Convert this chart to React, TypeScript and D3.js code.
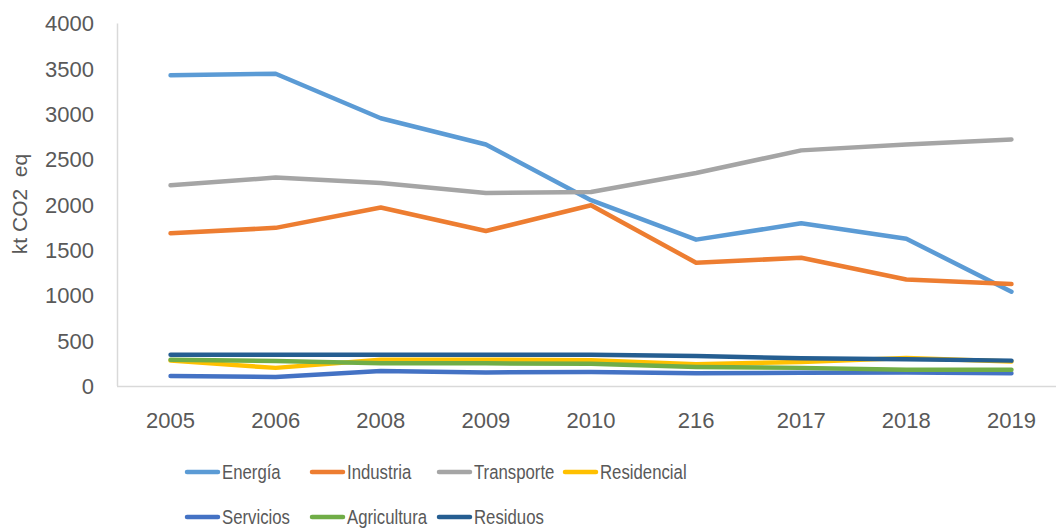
import React from 'react';
import * as d3 from 'd3';

const categories = ['2005', '2006', '2008', '2009', '2010', '216', '2017', '2018', '2019'];
const energia = [3430, 3445, 2955, 2665, 2050, 1615, 1795, 1625, 1040];
const industria = [1685, 1745, 1970, 1710, 1995, 1360, 1415, 1175, 1125];
const transporte = [2215, 2300, 2240, 2130, 2140, 2350, 2600, 2665, 2720];
const residencial = [280, 200, 290, 290, 285, 240, 265, 310, 270];
const servicios = [110, 100, 165, 150, 155, 140, 145, 150, 140];
const agricultura = [290, 275, 250, 250, 245, 210, 200, 180, 180];
const residuos = [345, 345, 345, 345, 345, 330, 305, 295, 280];
const yTicks = [0, 500, 1000, 1500, 2000, 2500, 3000, 3500, 4000];
const seriesNames = ['Energía', 'Industria', 'Transporte', 'Residencial', 'Servicios', 'Agricultura', 'Residuos'];
const seriesValues = [energia, industria, transporte, residencial, servicios, agricultura, residuos];
const seriesColors = ['#5B9BD5', '#ED7D31', '#A5A5A5', '#FFC000', '#4472C4', '#70AD47', '#255E91'];

const W = 1056;
const H = 529;
const FONT = '"Liberation Sans", Arial, sans-serif';
const TEXT = '#595959';

export default function App() {
  const x = d3.scaleBand<string>().domain(categories).range([118, 1064]);
  const y = d3.scaleLinear().domain([0, 4000]).range([386, 23.5]);
  const cx = (c: string) => (x(c) as number) + x.bandwidth() / 2;
  const line = d3
    .line<number>()
    .x((_, i) => cx(categories[i]))
    .y((v) => y(v));

  const legendCols = [185, 310, 437, 563];
  const legendRows = [472, 517];

  return (
    <svg
      width={W}
      height={H}
      style={{ position: 'absolute', left: 0, top: 0, background: '#fff' }}
      fontFamily={FONT}
    >
      <rect width={W} height={H} fill="#fff" />
      <line x1={117.5} x2={117.5} y1={y(4000)} y2={y(0)} stroke="#D9D9D9" strokeWidth={1.5} />
      <line x1={117} x2={1064} y1={y(0) + 0.5} y2={y(0) + 0.5} stroke="#D9D9D9" strokeWidth={1.5} />
      {yTicks.map((t) => (
        <text key={t} x={94} y={y(t)} dy="0.36em" textAnchor="end" fontSize={22} fill={TEXT}>
          {t}
        </text>
      ))}
      {categories.map((c) => (
        <text key={c} x={cx(c)} y={428} textAnchor="middle" fontSize={22} fill={TEXT}>
          {c}
        </text>
      ))}
      <text
        transform={`translate(27,204) rotate(-90)`}
        textAnchor="middle"
        fontSize={21}
        fill={TEXT}
        style={{ whiteSpace: 'pre' }}
      >
        {'kt CO2  eq'}
      </text>
      {seriesValues.map((vals, i) => (
        <path
          key={seriesNames[i]}
          d={line(vals) || ''}
          fill="none"
          stroke={seriesColors[i]}
          strokeWidth={4.5}
          strokeLinejoin="round"
          strokeLinecap="round"
        />
      ))}
      {seriesNames.map((name, i) => {
        const lx = legendCols[i % 4];
        const ly = legendRows[Math.floor(i / 4)];
        return (
          <g key={name}>
            <line x1={lx + 2} x2={lx + 33} y1={ly} y2={ly} stroke={seriesColors[i]} strokeWidth={4.5} strokeLinecap="round" />
            <g transform={`translate(${lx + 37},${ly}) scale(0.86,1)`}>
              <text x={0} y={0} dy="0.36em" fontSize={19.5} fill={TEXT}>
                {name}
              </text>
            </g>
          </g>
        );
      })}
    </svg>
  );
}
